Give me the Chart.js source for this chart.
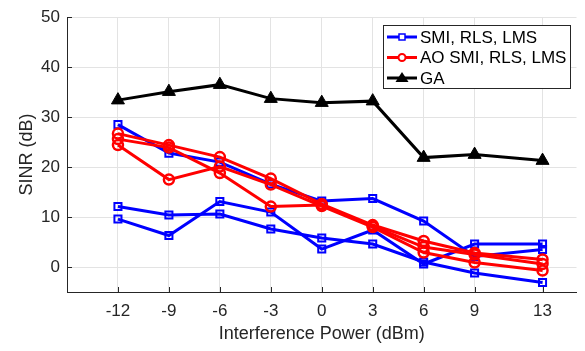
<!DOCTYPE html>
<html>
<head>
<meta charset="utf-8">
<script src="https://cdn.jsdelivr.net/npm/chart.js@4.4.1/dist/chart.umd.min.js"></script>
<style>
html,body{margin:0;padding:0;background:#fff;}
#wrap{width:585px;height:351px;}
</style>
</head>
<body>
<div id="wrap"><canvas id="c" width="585" height="351"></canvas></div>
<script>
// ---- data ----
const xVals = [-12, -9, -6, -3, 0, 3, 6, 9, 13];
const xTicks = [-12, -9, -6, -3, 0, 3, 6, 9, 13];
const yTicks = [0, 10, 20, 30, 40, 50];
const smi1 = [28.5, 22.8, 21.0, 16.6, 13.2, 13.7, 9.2, 2.1, 3.5];
const smi2 = [12.1, 10.4, 10.6, 7.6, 5.8, 4.6, 1.0, -1.2, -3.1];
const smi3 = [9.6, 6.3, 13.1, 11.0, 3.6, 7.4, 0.6, 4.6, 4.6];
const ao1 = [26.7, 24.4, 22.0, 17.7, 12.6, 8.4, 5.2, 2.8, 1.5];
const ao2 = [25.6, 23.9, 18.8, 12.1, 12.4, 8.2, 4.0, 2.5, 0.6];
const ao3 = [24.4, 17.5, 20.1, 16.5, 12.2, 8.0, 2.9, 0.9, -0.7];
const ga = [33.4, 35.1, 36.5, 33.7, 32.9, 33.2, 21.9, 22.5, 21.3];
const legendLabels = ['SMI, RLS, LMS', 'AO SMI, RLS, LMS', 'GA'];

const FONT = '"Liberation Sans", Arial, sans-serif';
const BLUE = '#0000ff', RED = '#ff0000', BLACK = '#000000';

function pts(arr){ return xVals.map((x,i)=>({x:x, y:arr[i]})); }
function blueDs(arr, label){
  return {label:label, data:pts(arr), borderColor:BLUE, backgroundColor:'#ffffff',
    borderWidth:3, pointStyle:'rect', pointRadius:5, pointBorderWidth:2,
    pointBorderColor:BLUE, pointBackgroundColor:'rgba(255,255,255,0)', order:2, tension:0};
}
function redDs(arr, label){
  return {label:label, data:pts(arr), borderColor:RED, backgroundColor:'#ffffff',
    borderWidth:3, pointStyle:'circle', pointRadius:5, pointBorderWidth:2.5,
    pointBorderColor:RED, pointBackgroundColor:'rgba(255,255,255,0)', order:1, tension:0};
}
const datasets = [
  blueDs(smi1, legendLabels[0]), blueDs(smi2, ''), blueDs(smi3, ''),
  redDs(ao1, legendLabels[1]), redDs(ao2, ''), redDs(ao3, ''),
  {label:legendLabels[2], data:pts(ga), borderColor:BLACK, backgroundColor:BLACK,
    borderWidth:3, pointStyle:'triangle', pointRadius:7.5, pointBorderWidth:1,
    pointBorderColor:BLACK, pointBackgroundColor:BLACK, order:0, tension:0}
];

const matlabDecor = {
  id:'matlabDecor',
  beforeDatasetsDraw(chart){
    const ctx = chart.ctx, a = chart.chartArea;
    const xs = chart.scales.x, ys = chart.scales.y;
    ctx.save();
    ctx.strokeStyle = '#262626'; ctx.lineWidth = 1;
    ctx.beginPath();
    yTicks.forEach(v=>{ const p = Math.round(ys.getPixelForValue(v))+0.5; ctx.moveTo(a.left, p); ctx.lineTo(a.left+5, p); });
    xTicks.forEach(v=>{ const p = Math.round(xs.getPixelForValue(v))+0.5; ctx.moveTo(p, a.bottom); ctx.lineTo(p, a.bottom-5); });
    ctx.stroke();
    ctx.restore();
  },
  afterDraw(chart){
    const ctx = chart.ctx;
    ctx.save();
    const bx = 383.5, by = 25.5, bw = 187, bh = 63;
    ctx.fillStyle = '#fff'; ctx.fillRect(bx, by, bw, bh);
    ctx.strokeStyle = '#262626'; ctx.lineWidth = 1; ctx.strokeRect(bx, by, bw, bh);
    const rows = [37, 57.5, 78];
    const cols = [BLUE, RED, BLACK];
    const styles = ['rect','circle','triangle'];
    ctx.font = '17px ' + FONT; ctx.textBaseline = 'middle'; ctx.textAlign = 'left';
    rows.forEach((y,i)=>{
      ctx.strokeStyle = cols[i]; ctx.lineWidth = 3;
      ctx.beginPath(); ctx.moveTo(387, y); ctx.lineTo(417, y); ctx.stroke();
      const cx = 402;
      if (styles[i]==='rect'){
        ctx.lineWidth = 1.5; ctx.fillStyle='#fff';
        ctx.fillRect(cx-3, y-3, 6, 6); ctx.strokeRect(cx-3, y-3, 6, 6);
      } else if (styles[i]==='circle'){
        ctx.lineWidth = 2; ctx.fillStyle='#fff';
        ctx.beginPath(); ctx.arc(cx, y, 3.5, 0, Math.PI*2); ctx.fill(); ctx.stroke();
      } else {
        ctx.fillStyle = BLACK; ctx.beginPath();
        ctx.moveTo(cx, y-6); ctx.lineTo(cx+6.5, y+4); ctx.lineTo(cx-6.5, y+4); ctx.closePath(); ctx.fill();
      }
      ctx.fillStyle = '#000';
      ctx.fillText(legendLabels[i], 420, y+1);
    });
    ctx.restore();
  }
};

new Chart(document.getElementById('c'), {
  type:'line',
  data:{datasets:datasets},
  options:{
    responsive:false, animation:false, devicePixelRatio:1,
    layout:{padding:{top:16, right:5, left:0, bottom:0}},
    plugins:{legend:{display:false}, tooltip:{enabled:false}},
    elements:{line:{borderJoinStyle:'miter'}},
    scales:{
      x:{type:'linear', min:-15, max:15,
        afterBuildTicks(s){ s.ticks = xTicks.map(v=>({value:v})); },
        afterFit(s){ s.height = 59; },
        grid:{color:'#e3e3e3', lineWidth:1, drawTicks:false, tickLength:0},
        border:{color:'#262626', width:1},
        ticks:{color:'#262626', font:{family:FONT, size:17}, padding:9, maxRotation:0, autoSkip:false},
        title:{display:true, text:'Interference Power (dBm)', color:'#262626', font:{family:FONT, size:18}, padding:{top:0, bottom:6}}
      },
      y:{type:'linear', min:-5, max:50,
        afterBuildTicks(s){ s.ticks = yTicks.map(v=>({value:v})); },
        afterFit(s){ s.width = 67; },
        grid:{color:'#e3e3e3', lineWidth:1, drawTicks:false, tickLength:0},
        border:{color:'#262626', width:1},
        ticks:{color:'#262626', font:{family:FONT, size:17}, padding:7},
        title:{display:true, text:'SINR (dB)', color:'#262626', font:{family:FONT, size:18}, padding:{top:16, bottom:0}}
      }
    }
  },
  plugins:[matlabDecor]
});
</script>
</body>
</html>
